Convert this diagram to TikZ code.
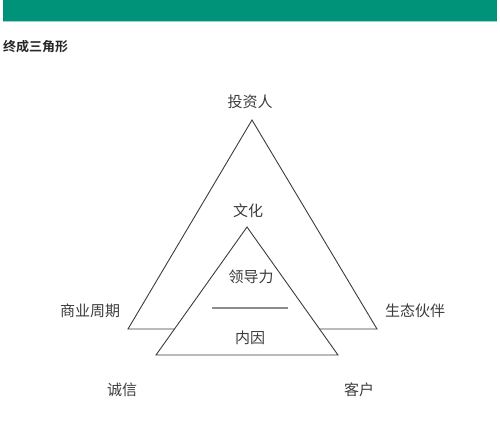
\documentclass[tikz,border=0pt]{standalone}
\usepackage{fontspec}
\usepackage{xcolor}
\usepackage{tikz}
\usetikzlibrary{positioning}
\newfontfamily\cjk{Noto Sans CJK SC}[BoldFont={Noto Sans CJK SC Bold}]
\definecolor{bannerteal}{RGB}{0,147,122}
\definecolor{inkgray}{RGB}{60,60,60}
\tikzset{
  label text/.style={font=\cjk\fontsize{15}{18}\selectfont, text=inkgray, inner sep=0pt},
  title text/.style={font=\cjk\bfseries\fontsize{13}{16}\selectfont, text=black!85, inner sep=0pt, anchor=west},
  tri line/.style={draw=inkgray, line width=0.9pt, line join=miter},
  split line/.style={draw=gray!90, line width=1.3pt},
}

\begin{document}
\begin{tikzpicture}[x=1pt,y=-1pt]
    \useasboundingbox (0,0) rectangle (500,432);
    % banner
    \fill[bannerteal] (3,0) rectangle (497,21);
    \draw[bannerteal!40, line width=0.8pt] (3,21) -- (497,21);
    \node[title text] (title) at (3,47) {终成三角形};
    % outer triangle
    \path[tri line] (252,120) coordinate (outertop) -- (128,329) coordinate (outerleft)
        -- (377,329) coordinate (outerright) -- cycle;
    % inner triangle
    \path[tri line, fill=white] (247,227) coordinate (innertop) -- (156,355) coordinate (innerleft)
        -- (338,355) coordinate (innerright) -- cycle;
    \draw[split line] (212,308) coordinate (splitl) -- (288,308) coordinate (splitr);
    % labels
    \node[label text] (investor) at (250,102) {投资人};
    \node[label text] (culture) at (248,211) {文化};
    \node[label text] (leader) at (251,277) {领导力};
    \node[label text] (inner) at (250,338) {内因};
    \node[label text] (cycle) at (90,311) {商业周期};
    \node[label text] (partner) at (415,311) {生态伙伴};
    \node[label text] (integrity) at (122,390) {诚信};
    \node[label text] (customer) at (359,390) {客户};
\end{tikzpicture}
\end{document}
